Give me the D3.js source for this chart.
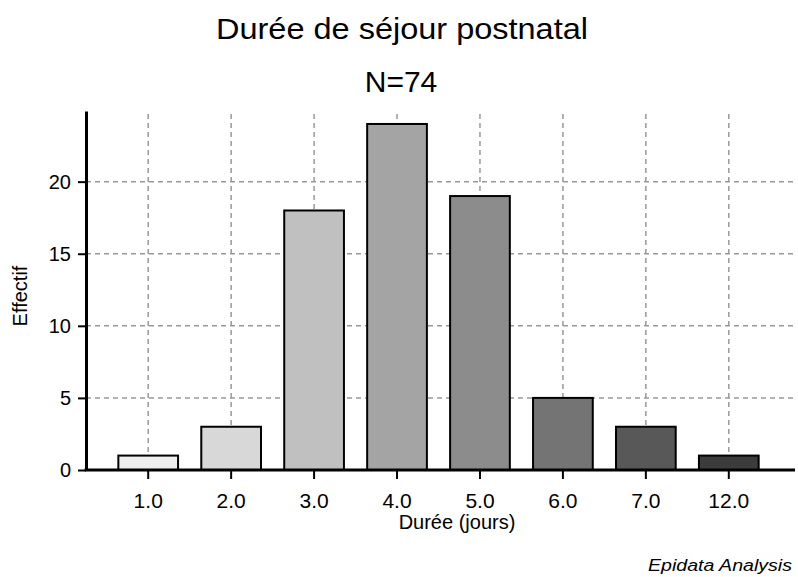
<!DOCTYPE html>
<html lang="fr">
  <head>
    <meta charset="utf-8">
    <title>Durée de séjour postnatal</title>
    <script src="https://d3js.org/d3.v7.min.js"></script>
    <style>
      body { margin: 0; background: #fff; }
      text { font-family: "Liberation Sans", Arial, sans-serif; fill: #000; }
    </style>
  </head>
  <body>
    <div id="chart"></div>
    <script>
      // Data
      var categories = ["1.0", "2.0", "3.0", "4.0", "5.0", "6.0", "7.0", "12.0"];
      var counts = [1, 3, 18, 24, 19, 5, 3, 1];
      var yTicks = [0, 5, 10, 15, 20];
      var total = 74;

      var width = 798, height = 577;
      var plotLeft = 86, plotRight = 795, plotBottom = 470, plotTop = 111;

      var svg = d3.select("#chart").append("svg")
          .attr("width", width)
          .attr("height", height);

      // scales
      var x = d3.scaleBand()
          .domain(categories)
          .range([plotLeft, 791])
          .paddingInner(0.28)
          .paddingOuter(0.39);

      var y = d3.scaleLinear()
          .domain([0, 24.9])
          .range([plotBottom, plotTop]);

      var shade = d3.scaleOrdinal()
          .domain(categories)
          .range(["#eeeeee", "#d8d8d8", "#c0c0c0", "#a4a4a4", "#8c8c8c", "#747474", "#585858", "#3c3c3c"]);

      // grid lines
      var grid = svg.append("g")
          .attr("stroke", "#999")
          .attr("stroke-width", 1.5)
          .attr("stroke-dasharray", "5,4");

      grid.selectAll(".vgrid")
          .data(categories)
          .enter().append("line")
          .attr("class", "vgrid")
          .attr("x1", function(d) { return x(d) + x.bandwidth() / 2; })
          .attr("x2", function(d) { return x(d) + x.bandwidth() / 2; })
          .attr("y1", plotTop + 3)
          .attr("y2", plotBottom);

      grid.selectAll(".hgrid")
          .data(yTicks.filter(function(t) { return t > 0; }))
          .enter().append("line")
          .attr("class", "hgrid")
          .attr("x1", plotLeft)
          .attr("x2", plotRight)
          .attr("y1", function(d) { return y(d); })
          .attr("y2", function(d) { return y(d); });

      // bars
      svg.selectAll(".bar")
          .data(counts)
          .enter().append("rect")
          .attr("class", "bar")
          .attr("x", function(d, i) { return x(categories[i]); })
          .attr("y", function(d) { return y(d); })
          .attr("width", x.bandwidth())
          .attr("height", function(d) { return plotBottom - y(d); })
          .attr("fill", function(d, i) { return shade(categories[i]); })
          .attr("stroke", "#000")
          .attr("stroke-width", 2);

      // y axis
      var yAxis = svg.append("g")
          .attr("transform", "translate(" + plotLeft + ",0)")
          .call(d3.axisLeft(y).tickValues(yTicks).tickSize(8).tickSizeOuter(0).tickPadding(7));
      yAxis.select(".domain").attr("stroke-width", 3);
      yAxis.selectAll(".tick line").attr("stroke-width", 2);
      yAxis.selectAll("text").style("font-size", "20px").attr("fill", "#000");

      // x axis
      var xAxis = svg.append("g")
          .attr("transform", "translate(0," + plotBottom + ")")
          .call(d3.axisBottom(x).tickSize(9).tickPadding(14));
      xAxis.select(".domain").remove();
      xAxis.selectAll(".tick line").attr("stroke-width", 2);
      xAxis.selectAll("text").style("font-size", "21px").attr("fill", "#000");

      svg.append("line")
          .attr("x1", plotLeft - 1.5)
          .attr("x2", plotRight)
          .attr("y1", plotBottom)
          .attr("y2", plotBottom)
          .attr("stroke", "#000")
          .attr("stroke-width", 3);

      // titles
      svg.append("text")
          .attr("x", 402)
          .attr("y", 39)
          .attr("text-anchor", "middle")
          .attr("textLength", 372)
          .attr("lengthAdjust", "spacingAndGlyphs")
          .style("font-size", "30px")
          .text("Durée de séjour postnatal");

      svg.append("text")
          .attr("x", 401)
          .attr("y", 92)
          .attr("text-anchor", "middle")
          .style("font-size", "30px")
          .text("N=" + total);

      svg.append("text")
          .attr("transform", "translate(27,296) rotate(-90)")
          .attr("text-anchor", "middle")
          .style("font-size", "20px")
          .text("Effectif");

      svg.append("text")
          .attr("x", 457)
          .attr("y", 529)
          .attr("text-anchor", "middle")
          .style("font-size", "20px")
          .text("Durée (jours)");

      svg.append("text")
          .attr("x", 792)
          .attr("y", 571)
          .attr("text-anchor", "end")
          .attr("textLength", 144)
          .attr("lengthAdjust", "spacingAndGlyphs")
          .style("font-size", "16px")
          .style("font-style", "italic")
          .text("Epidata Analysis");
    </script>
  </body>
</html>
